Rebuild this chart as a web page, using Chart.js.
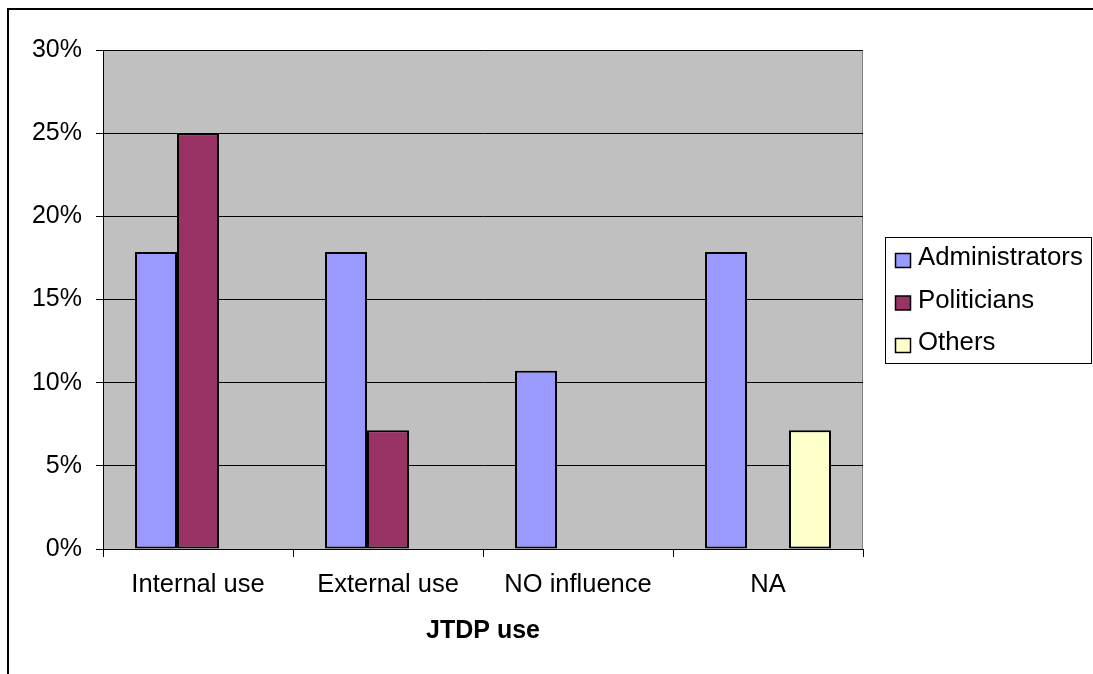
<!DOCTYPE html>
<html>
<head>
<meta charset="utf-8">
<script src="https://cdn.jsdelivr.net/npm/chart.js@4.4.1/dist/chart.umd.min.js"></script>
<style>
  html, body { margin: 0; padding: 0; background: #ffffff; }
  canvas { display: block; }
</style>
</head>
<body>
<canvas id="chart" width="1093" height="674"></canvas>
<script>
// Survey shares (%) by type of JTDP use
const categories = ['Internal use', 'External use', 'NO influence', 'NA'];
const administrators = [17.86, 17.86, 10.71, 17.86];
const politicians = [25.0, 7.14, 0, 0];
const others = [0, 0, 0, 7.14];
const seriesNames = ['Administrators', 'Politicians', 'Others'];
const yMin = 0, yMax = 30, yStep = 5;
const axisTitle = 'JTDP use';

const FONT = '"Liberation Sans", Arial, Helvetica, sans-serif';

// Gray plot background and the outer frame
const backdrop = {
  id: 'backdrop',
  beforeDraw(chart) {
    const { ctx, chartArea: a } = chart;
    ctx.save();
    ctx.fillStyle = '#ffffff';
    ctx.fillRect(0, 0, chart.width, chart.height);
    ctx.strokeStyle = '#000000';
    ctx.lineWidth = 2;
    ctx.beginPath();
    ctx.moveTo(8, chart.height + 2);
    ctx.lineTo(8, 9);
    ctx.lineTo(chart.width + 2, 9);
    ctx.stroke();
    ctx.fillStyle = '#C0C0C0';
    ctx.fillRect(a.left, a.top, a.right - a.left, a.bottom - a.top);
    ctx.strokeStyle = '#808080';
    ctx.lineWidth = 1;
    ctx.strokeRect(a.left + 0.5, a.top + 0.5, a.right - a.left - 1, a.bottom - a.top);
    ctx.restore();
  }
};

// Boxed legend at the right
const boxLegend = {
  id: 'boxLegend',
  afterDraw(chart) {
    const { ctx } = chart;
    const box = { x: 885.5, y: 237.5, w: 206, h: 126 };
    ctx.save();
    ctx.fillStyle = '#ffffff';
    ctx.fillRect(box.x, box.y, box.w, box.h);
    ctx.strokeStyle = '#000000';
    ctx.lineWidth = 1;
    ctx.strokeRect(box.x, box.y, box.w, box.h);
    ctx.font = '25.8px ' + FONT;
    ctx.textBaseline = 'middle';
    ctx.textAlign = 'left';
    chart.data.datasets.forEach((ds, i) => {
      const cy = 257 + i * 42.5;
      ctx.fillStyle = ds.backgroundColor;
      ctx.fillRect(895.5, cy - 3.5, 15, 14);
      ctx.strokeStyle = '#000000';
      ctx.lineWidth = 1.5;
      ctx.strokeRect(895.5, cy - 3.5, 15, 14);
      ctx.fillStyle = '#000000';
      ctx.fillText(ds.label, 918, cy + 1);
    });
    ctx.restore();
  }
};

const colors = ['#9999FF', '#993366', '#FFFFCC'];
const values = [administrators, politicians, others];

new Chart(document.getElementById('chart'), {
  type: 'bar',
  data: {
    labels: categories,
    datasets: values.map((v, i) => ({
      label: seriesNames[i],
      data: v,
      backgroundColor: colors[i],
      borderColor: '#000000',
      borderWidth: (c) => (c.raw ? 2 : 0),
      borderSkipped: false,
      categoryPercentage: 0.663,
      barPercentage: 1.0
    }))
  },
  options: {
    responsive: false,
    animation: false,
    devicePixelRatio: 1,
    layout: { padding: { left: 0, top: 50, right: 230, bottom: 0 } },
    plugins: {
      legend: { display: false },
      tooltip: { enabled: false }
    },
    scales: {
      x: {
        offset: true,
        afterFit(s) { s.height = 125; },
        border: { display: true, color: '#000000', width: 1 },
        grid: {
          offset: true,
          drawOnChartArea: false,
          drawTicks: true,
          tickLength: 8,
          color: '#000000',
          lineWidth: 1
        },
        ticks: {
          color: '#000000',
          padding: 13,
          maxRotation: 0,
          font: { family: FONT, size: 25.5 }
        },
        title: {
          display: true,
          text: axisTitle,
          color: '#000000',
          padding: { top: 0, bottom: 28 },
          font: { family: FONT, size: 25, weight: 'bold' }
        }
      },
      y: {
        min: yMin,
        max: yMax,
        afterFit(s) { s.width = 103; },
        border: { display: true, color: '#000000', width: 1 },
        grid: {
          color: '#000000',
          lineWidth: 1,
          drawTicks: true,
          tickLength: 7
        },
        ticks: {
          stepSize: yStep,
          color: '#000000',
          padding: 14,
          font: { family: FONT, size: 25 },
          callback: (v) => v + '%'
        }
      }
    }
  },
  plugins: [backdrop, boxLegend]
});
</script>
</body>
</html>
